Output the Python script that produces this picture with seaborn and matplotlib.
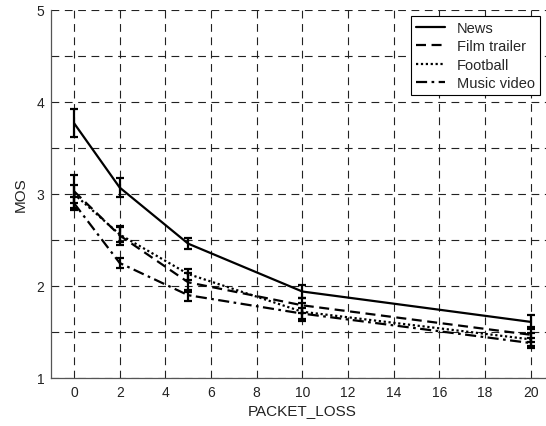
import numpy as np
import pandas as pd
import matplotlib
matplotlib.use("Agg")
import matplotlib.pyplot as plt
import seaborn as sns

packet_loss = [0, 2, 5, 10, 20]
series_names = ["News", "Film trailer", "Football", "Music video"]
news = [3.77, 3.07, 2.46, 1.94, 1.61]
film_trailer = [3.03, 2.55, 2.04, 1.79, 1.47]
football = [3.00, 2.56, 2.13, 1.72, 1.42]
music_video = [2.90, 2.25, 1.90, 1.70, 1.38]
news_err = [0.15, 0.10, 0.06, 0.07, 0.08]
film_err = [0.18, 0.10, 0.10, 0.08, 0.08]
football_err = [0.10, 0.08, 0.06, 0.10, 0.07]
music_err = [0.07, 0.05, 0.06, 0.06, 0.05]
x_ticks = [0, 2, 4, 6, 8, 10, 12, 14, 16, 18, 20]
y_ticks = [1, 2, 3, 4, 5]

sns.set_style("white")
plt.rcParams['font.family'] = ['Liberation Sans', 'DejaVu Sans']

values = [news, film_trailer, football, music_video]
errs = [news_err, film_err, football_err, music_err]
rows = []
for name, vals, er in zip(series_names, values, errs):
    for x, v, e in zip(packet_loss, vals, er):
        rows.append({"PACKET_LOSS": x, "MOS": v, "err": e, "Video": name})
df = pd.DataFrame(rows)

dash_map = {"News": "", "Film trailer": (4.5, 2.5), "Football": (1, 1.2), "Music video": (5, 2, 1.2, 2)}

fig = plt.figure(figsize=(5.46, 4.27), dpi=100)
ax = fig.add_axes([51.2 / 546, 1 - 379 / 427, (553.5 - 51.2) / 546, (379 - 11) / 427])

sns.lineplot(data=df, x="PACKET_LOSS", y="MOS", style="Video", dashes=dash_map,
             color="black", linewidth=1.6, ax=ax, legend=True, markers=False)

for name in series_names:
    sub = df[df["Video"] == name]
    ax.errorbar(sub["PACKET_LOSS"], sub["MOS"], yerr=sub["err"], fmt="none",
                ecolor="black", elinewidth=1.6, capsize=3, capthick=1.6, zorder=3)

ax.set_xlim(-1, 21)
ax.set_ylim(1, 5)
ax.set_xticks(x_ticks)
ax.set_yticks(y_ticks)
ax.set_yticks([1.5, 2.5, 3.5, 4.5], minor=True)
ax.tick_params(axis="both", which="both", direction="in", length=5, color="black",
               labelsize=10, labelcolor="#222222", pad=5)
ax.grid(True, which="both", axis="both", color="#222222", linestyle=(0, (7, 5)), linewidth=0.8)
ax.set_axisbelow(True)
for s in ["top", "right"]:
    ax.spines[s].set_visible(False)
for s in ["left", "bottom"]:
    ax.spines[s].set_color("#555555")
    ax.spines[s].set_linewidth(0.9)

ax.set_xlabel("PACKET_LOSS", fontsize=11, color="#222222", labelpad=3)
ax.set_ylabel("MOS", fontsize=11, color="#222222", labelpad=6)

leg = ax.legend(loc="upper left", bbox_to_anchor=((411 - 51.2) / (553.5 - 51.2), 1 - 6 / 368),
                fontsize=10.5, frameon=True, fancybox=False, framealpha=1, edgecolor="black",
                handlelength=2.0, borderpad=0.35, labelspacing=0.3, handletextpad=0.8,
                borderaxespad=0)
leg.get_frame().set_linewidth(0.8)
for line in leg.get_lines():
    line.set_color("black")
    line.set_linewidth(1.6)

fig.savefig("out.png", dpi=100)
